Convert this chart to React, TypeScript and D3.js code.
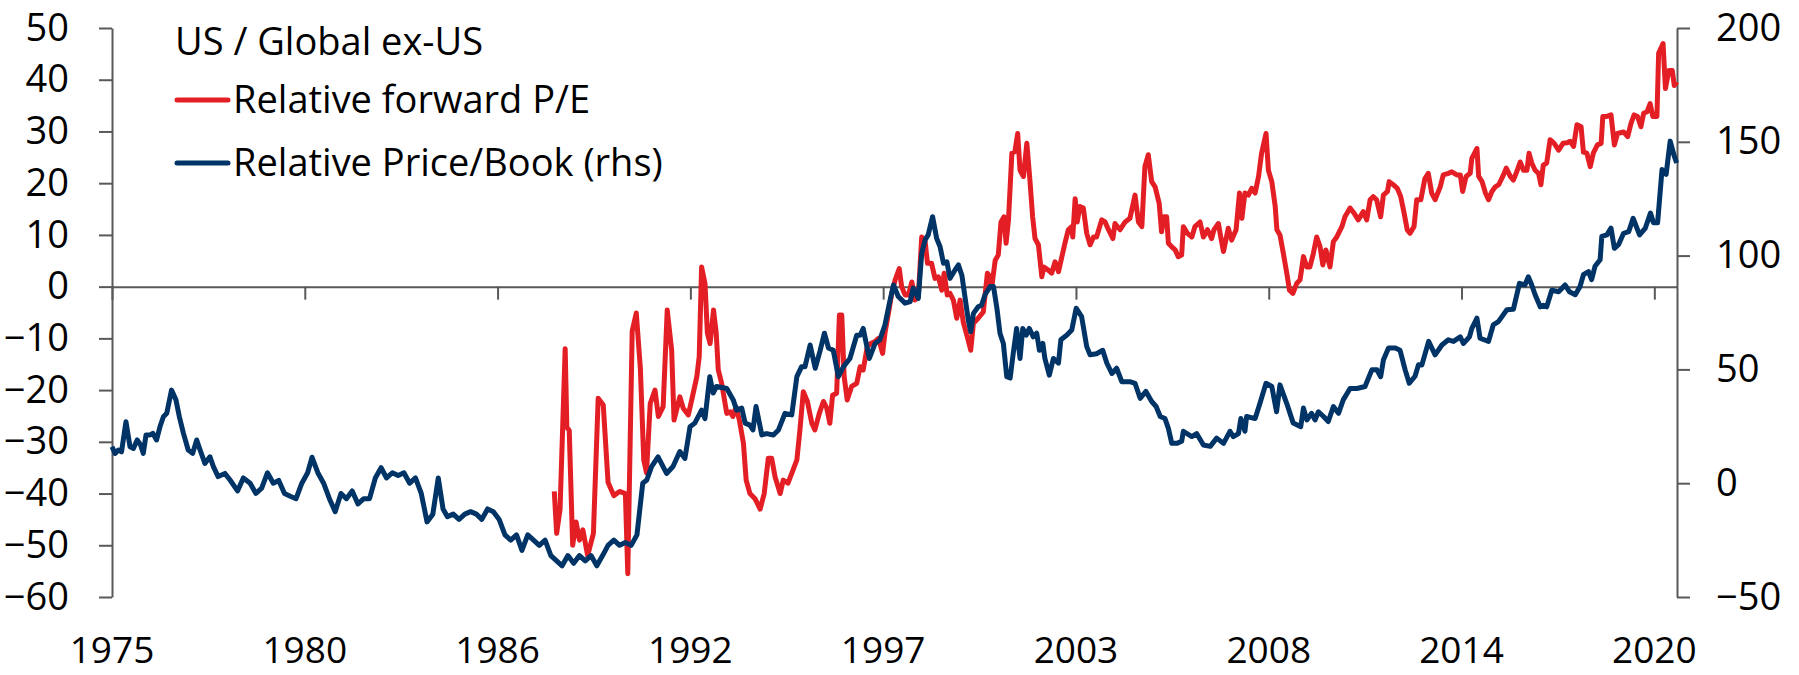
import { useEffect, useRef } from "react";
import * as d3 from "d3";

// axis labels
const xTickLabels = ["1975", "1980", "1986", "1992", "1997", "2003", "2008", "2014", "2020"];
const xTickStepYears = 68 / 12; // excel category axis: one label every 68 months
const leftTicks = [50, 40, 30, 20, 10, 0, -10, -20, -30, -40, -50, -60];
const rightTicks = [200, 150, 100, 50, 0, -50];

const legendTitle = "US / Global ex-US";
const peLabel = "Relative forward P/E";
const pbLabel = "Relative Price/Book (rhs)";

// Relative forward P/E (lhs)
const peYears = [
  1988.0, 1988.07, 1988.17, 1988.32, 1988.37, 1988.44, 1988.54, 1988.64, 1988.74, 1988.84, 1988.98, 1989.15,
  1989.29, 1989.44, 1989.58, 1989.75, 1989.92, 1990.09, 1990.16, 1990.29, 1990.41, 1990.53, 1990.63, 1990.71,
  1990.82, 1990.96, 1991.06, 1991.2, 1991.32, 1991.45, 1991.52, 1991.69, 1991.79, 1991.94, 1992.04, 1992.19,
  1992.26, 1992.33, 1992.43, 1992.5, 1992.58, 1992.68, 1992.76, 1992.82, 1992.92, 1993.07, 1993.17, 1993.25,
  1993.34, 1993.44, 1993.56, 1993.64, 1993.75, 1993.9, 1994.05, 1994.17, 1994.29, 1994.39, 1994.49, 1994.64,
  1994.73, 1994.87, 1994.98, 1995.13, 1995.22, 1995.32, 1995.44, 1995.57, 1995.66, 1995.79, 1995.91, 1996.01,
  1996.1, 1996.18, 1996.3, 1996.38, 1996.45, 1996.52, 1996.61, 1996.74, 1996.89, 1996.99, 1997.08, 1997.2,
  1997.3, 1997.43, 1997.53, 1997.65, 1997.72, 1997.82, 1997.92, 1998.02, 1998.14, 1998.21, 1998.31, 1998.41,
  1998.51, 1998.6, 1998.7, 1998.8, 1998.9, 1998.97, 1999.09, 1999.19, 1999.29, 1999.39, 1999.46, 1999.55,
  1999.63, 1999.73, 1999.83, 1999.93, 2000.02, 2000.14, 2000.24, 2000.32, 2000.46, 2000.61, 2000.73, 2000.81,
  2000.86, 2000.96, 2001.05, 2001.13, 2001.22, 2001.28, 2001.35, 2001.45, 2001.54, 2001.62, 2001.69, 2001.79,
  2001.89, 2001.98, 2002.06, 2002.13, 2002.23, 2002.33, 2002.39, 2002.52, 2002.62, 2002.72, 2002.82, 2002.92,
  2003.01, 2003.11, 2003.21, 2003.24, 2003.31, 2003.37, 2003.45, 2003.55, 2003.65, 2003.75, 2003.85, 2003.94,
  2004.09, 2004.19, 2004.29, 2004.42, 2004.48, 2004.63, 2004.78, 2004.92, 2005.07, 2005.17, 2005.27, 2005.36,
  2005.46, 2005.56, 2005.66, 2005.78, 2005.85, 2005.92, 2006.0, 2006.05, 2006.15, 2006.25, 2006.34, 2006.44,
  2006.49, 2006.61, 2006.74, 2006.83, 2006.98, 2007.08, 2007.2, 2007.32, 2007.39, 2007.52, 2007.59, 2007.67,
  2007.81, 2007.91, 2008.04, 2008.14, 2008.21, 2008.3, 2008.4, 2008.5, 2008.6, 2008.7, 2008.79, 2008.92,
  2008.99, 2009.09, 2009.19, 2009.24, 2009.33, 2009.43, 2009.53, 2009.61, 2009.71, 2009.82, 2009.92, 2010.02,
  2010.12, 2010.21, 2010.31, 2010.41, 2010.51, 2010.59, 2010.68, 2010.8, 2010.9, 2011.0, 2011.15, 2011.24,
  2011.39, 2011.51, 2011.63, 2011.78, 2011.88, 2011.98, 2012.07, 2012.17, 2012.29, 2012.37, 2012.49, 2012.54,
  2012.66, 2012.78, 2012.88, 2012.98, 2013.07, 2013.15, 2013.27, 2013.35, 2013.47, 2013.59, 2013.69, 2013.79,
  2013.89, 2014.04, 2014.13, 2014.28, 2014.38, 2014.53, 2014.63, 2014.7, 2014.8, 2014.92, 2014.97, 2015.12,
  2015.17, 2015.27, 2015.37, 2015.46, 2015.56, 2015.66, 2015.76, 2015.9, 2015.98, 2016.1, 2016.19, 2016.29,
  2016.39, 2016.49, 2016.59, 2016.65, 2016.73, 2016.83, 2016.93, 2017.0, 2017.07, 2017.17, 2017.27, 2017.39,
  2017.52, 2017.65, 2017.77, 2017.86, 2017.96, 2018.06, 2018.18, 2018.25, 2018.35, 2018.45, 2018.54, 2018.66,
  2018.77, 2018.82, 2018.94, 2019.06, 2019.16, 2019.25, 2019.43, 2019.55, 2019.65, 2019.74, 2019.84, 2019.94,
  2020.02, 2020.12, 2020.21, 2020.29, 2020.41, 2020.46, 2020.59, 2020.66, 2020.76, 2020.86, 2020.92, 2021.0,
];
const peValues = [
  -39.6, -47.7, -43, -12, -27.2, -27.8, -50, -45.5, -49, -47, -52, -47.7,
  -21.6, -22.9, -37.8, -40.4, -39.6, -40, -55.5, -8.6, -5.1, -15.8, -33.5, -36,
  -22.6, -20, -25.1, -23.2, -4.5, -12.3, -25.8, -21.3, -23.5, -24.8, -21.9, -17.4,
  -13.5, 3.8, 0.6, -9, -11, -4.5, -9, -16.1, -18.7, -24.5, -24.2, -25.1,
  -23.2, -25.8, -30.3, -37.4, -40, -41, -43, -40, -33.2, -33.2, -36.8, -40,
  -37.4, -38, -36.1, -33.5, -27.7, -20.3, -22.2, -26.4, -27.7, -24.5, -22.2, -23.5,
  -26.4, -21, -20.6, -5.5, -5.5, -17.4, -21.9, -19.3, -18.7, -15.5, -16.1, -11.6,
  -11, -10.6, -10, -12.9, -9, -5.2, -1.3, 1.3, 3.5, 0, -1.6, -1.6,
  0.9, -2.6, -1.95, 9.6, 8.7, 4.5, 4.5, 1.6, 1.9, -0.7, 2.6, -1.6,
  -1.3, -2.6, -6.1, -2.6, -6.8, -9.7, -12.3, -7.1, -6.1, -4.9, 2.6, 1.9,
  0, 5.1, 6.1, 12.5, 13.5, 8.4, 12.9, 25.8, 26.1, 29.6, 22.5, 21.3,
  27.7, 20.6, 13.5, 9.3, 8.1, 1.9, 3.8, 3.2, 2.6, 4.8, 2.9, 5.8,
  8.4, 11, 11.6, 9.6, 17, 12.5, 15.5, 15.2, 10.3, 8.1, 9.6, 9.6,
  12.9, 12.5, 11, 9.3, 12.2, 11, 12.5, 13.2, 17.7, 12.5, 11.6, 23.2,
  25.5, 20.3, 19.3, 16.1, 10.6, 13.5, 13.5, 8.4, 7.7, 7.1, 5.8, 6.1,
  11.6, 10.3, 9.6, 11.6, 12.5, 9.6, 11, 9.3, 11, 12.2, 9.6, 6.8,
  11.3, 9, 11, 18.1, 13.2, 18.1, 17.7, 19, 18.1, 21.3, 25.8, 29.6,
  22.5, 20.3, 15.5, 11, 10, 6.4, 2.6, -0.7, -1.3, 0.6, 1.3, 5.8,
  3.8, 3.8, 6.4, 9.6, 7.7, 4.2, 7.1, 3.8, 8.7, 9.6, 11.6, 13.5,
  15.2, 14.2, 12.9, 14.5, 12.9, 16.8, 17.4, 16.8, 13.5, 17.7, 18.4, 20.3,
  19.7, 19, 17.4, 14.2, 11, 10.3, 11.6, 16.8, 16.8, 20.9, 21.9, 18.1,
  16.8, 19.3, 21.6, 21.9, 22.2, 21.6, 21.6, 18.4, 21.3, 21.9, 24.8, 26.7,
  21.3, 20.3, 18.1, 16.8, 18.4, 19.3, 19.7, 21.6, 22.9, 21.3, 20.6, 22.2,
  24.1, 22.5, 22.5, 25.8, 23.9, 22.5, 21.9, 19.7, 23.5, 23.9, 28.4, 27.7,
  26.4, 27.7, 27.8, 28.1, 27.1, 31.3, 30.9, 26, 25.8, 23.2, 25.8, 27.4,
  27.7, 32.9, 32.9, 33.2, 27.4, 29.6, 29.9, 29, 31.6, 33.2, 32.9, 30.9,
  33.5, 33.8, 35.4, 32.9, 32.9, 45.1, 47, 38.3, 41.8, 41.8, 38.9, 39.6,
];

// Relative Price/Book (rhs)
const pbYears = [
  1975.0, 1975.09, 1975.19, 1975.28, 1975.41, 1975.53, 1975.63, 1975.74, 1975.84, 1975.92, 1976.0, 1976.12,
  1976.2, 1976.31, 1976.41, 1976.51, 1976.61, 1976.75, 1976.88, 1976.98, 1977.1, 1977.24, 1977.37, 1977.49,
  1977.59, 1977.73, 1977.88, 1977.98, 1978.12, 1978.32, 1978.47, 1978.69, 1978.86, 1979.06, 1979.23, 1979.4,
  1979.57, 1979.74, 1979.9, 1980.07, 1980.24, 1980.41, 1980.58, 1980.75, 1980.88, 1981.05, 1981.22, 1981.39,
  1981.56, 1981.73, 1981.89, 1982.06, 1982.23, 1982.4, 1982.57, 1982.74, 1982.91, 1983.07, 1983.24, 1983.41,
  1983.58, 1983.75, 1983.92, 1984.09, 1984.26, 1984.43, 1984.59, 1984.73, 1984.86, 1985.03, 1985.2, 1985.37,
  1985.54, 1985.71, 1985.87, 1986.04, 1986.21, 1986.38, 1986.55, 1986.72, 1986.89, 1987.05, 1987.22, 1987.39,
  1987.56, 1987.73, 1987.9, 1988.07, 1988.23, 1988.4, 1988.57, 1988.74, 1988.91, 1989.08, 1989.25, 1989.42,
  1989.58, 1989.75, 1989.92, 1990.09, 1990.26, 1990.43, 1990.6, 1990.72, 1990.86, 1991.05, 1991.3, 1991.49,
  1991.69, 1991.84, 1991.99, 1992.13, 1992.33, 1992.43, 1992.57, 1992.67, 1992.77, 1993.07, 1993.26, 1993.36,
  1993.51, 1993.61, 1993.75, 1993.84, 1993.93, 1994.1, 1994.24, 1994.44, 1994.59, 1994.78, 1994.98, 1995.13,
  1995.27, 1995.37, 1995.52, 1995.67, 1995.81, 1995.94, 1996.06, 1996.2, 1996.35, 1996.5, 1996.69, 1996.89,
  1996.99, 1997.08, 1997.26, 1997.43, 1997.57, 1997.72, 1997.85, 1997.97, 1998.11, 1998.31, 1998.46, 1998.55,
  1998.7, 1998.8, 1998.9, 1998.99, 1999.12, 1999.24, 1999.34, 1999.44, 1999.54, 1999.63, 1999.78, 1999.88,
  1999.98, 2000.07, 2000.17, 2000.24, 2000.32, 2000.46, 2000.56, 2000.66, 2000.81, 2000.91, 2001.01, 2001.1,
  2001.2, 2001.3, 2001.4, 2001.49, 2001.59, 2001.69, 2001.77, 2001.87, 2001.96, 2002.08, 2002.18, 2002.26,
  2002.36, 2002.42, 2002.55, 2002.67, 2002.82, 2002.89, 2003.06, 2003.21, 2003.34, 2003.5, 2003.65, 2003.75,
  2003.94, 2004.12, 2004.24, 2004.39, 2004.53, 2004.68, 2004.92, 2005.07, 2005.22, 2005.39, 2005.56, 2005.69,
  2005.81, 2005.95, 2006.05, 2006.15, 2006.3, 2006.44, 2006.49, 2006.74, 2006.88, 2007.08, 2007.28, 2007.47,
  2007.67, 2007.86, 2007.96, 2008.11, 2008.18, 2008.3, 2008.35, 2008.6, 2008.74, 2008.92, 2009.09, 2009.23,
  2009.33, 2009.53, 2009.72, 2009.94, 2010.02, 2010.12, 2010.26, 2010.36, 2010.46, 2010.61, 2010.75, 2010.9,
  2011.05, 2011.19, 2011.39, 2011.59, 2011.83, 2012.03, 2012.18, 2012.29, 2012.37, 2012.52, 2012.72, 2012.86,
  2013.01, 2013.13, 2013.3, 2013.4, 2013.5, 2013.7, 2013.89, 2014.09, 2014.28, 2014.43, 2014.63, 2014.72,
  2014.9, 2014.97, 2015.12, 2015.21, 2015.46, 2015.6, 2015.75, 2016.0, 2016.19, 2016.37, 2016.53, 2016.63,
  2016.73, 2016.83, 2016.98, 2017.07, 2017.17, 2017.32, 2017.52, 2017.71, 2017.84, 2018.01, 2018.15, 2018.25,
  2018.4, 2018.49, 2018.59, 2018.74, 2018.79, 2018.94, 2019.06, 2019.16, 2019.28, 2019.43, 2019.58, 2019.71,
  2019.9, 2020.07, 2020.22, 2020.31, 2020.43, 2020.56, 2020.68, 2020.8, 2020.92, 2020.99,
];
const pbValues = [
  16, 13.1, 14.6, 13.8, 27, 16, 15.3, 19, 16.8, 13.1, 21.2, 21.2,
  21.9, 19, 24.8, 29.2, 30.7, 40.9, 36.6, 29.2, 21.9, 14.6, 13.1, 19,
  14.6, 8.7, 11.6, 7.3, 2.9, 4.3, 1.4, -3.4, 2.3, 0, -4.5, -2.2,
  4.6, 0, 1.2, -4.5, -5.7, -6.8, 0, 4.6, 11.4, 4.6, 0, -6.8,
  -12.5, -4.5, -6.8, -3.4, -9.1, -6.8, -6.8, 2.3, 6.8, 2.3, 4.6, 3.4,
  4.6, 0, 2.3, -4.5, -17, -13.6, 2.3, -11.3, -14.7, -13.6, -15.9, -13.6,
  -12.5, -13.6, -15.9, -11.3, -12.5, -15.9, -22.7, -25, -22.7, -29.5, -22.7, -25,
  -27.3, -25, -31.8, -34.1, -36.3, -31.8, -35.2, -31.8, -34.1, -31.8, -36.3, -31.8,
  -27.3, -25, -27.3, -26.1, -27.3, -22.7, 0, 1.4, 7.3, 11.6, 4.3, 7.3,
  13.9, 10.9, 24.8, 26.4, 32.1, 28.4, 46.8, 39.6, 42.5, 41.6, 36.6, 32.1,
  33, 26.4, 25.5, 23.4, 33.7, 21.2, 21.8, 21.2, 23.4, 30.7, 30, 46.8,
  51.2, 51.2, 60.7, 50.5, 58, 65.9, 59.4, 58.4, 46.8, 51.2, 54.8, 65,
  65, 68, 54.8, 61.4, 63, 69.6, 79.1, 87.1, 82, 79.1, 79.8, 85.7,
  81.2, 101, 106.9, 109.1, 117.1, 107.5, 103.9, 96.6, 97.3, 90, 93.7, 95.9,
  91.4, 82, 71.6, 66.6, 74.6, 77.5, 78.2, 82.8, 86.4, 86.4, 76.9, 65.9,
  61.4, 46.8, 46.2, 57.1, 68, 54.8, 68, 65, 68, 64.3, 65.9, 58.4,
  61.4, 54.8, 47.5, 54.8, 52.8, 63, 65, 67.3, 76.9, 73.2, 60, 56.4,
  56.9, 58.4, 52.8, 48.2, 50.5, 44.6, 44.6, 43.9, 37.3, 40.3, 35.9, 33.7,
  29.3, 28.4, 24.1, 17.5, 17.5, 18.4, 22.8, 20.5, 21.8, 16.8, 16.2, 19.8,
  17.5, 22.8, 20.5, 21.8, 28.4, 22.8, 29.3, 28.4, 35, 43.9, 42.5, 31.4,
  43.2, 35, 26.4, 24.8, 33, 27.8, 30.7, 27.8, 31.4, 29.3, 27.1, 33.7,
  30.7, 36.6, 41.6, 41.6, 42.5, 49.8, 49.8, 46.8, 54.1, 59.4, 59.4, 58.4,
  49.8, 43.9, 47, 52, 51.9, 62.3, 56.4, 60.7, 63, 62.3, 64.3, 61.4,
  64.3, 68, 72.5, 63.7, 62.3, 69.6, 71, 76.2, 76.4, 87.8, 87.1, 90.7,
  87.1, 82.8, 77.5, 78.2, 77.5, 84.8, 84.1, 87.1, 84.1, 82.8, 86.4, 91.6,
  93, 89.4, 95.3, 98.2, 108.4, 109.1, 112.1, 103.2, 104.8, 109.8, 110.5, 116.4,
  109.1, 112.1, 118.7, 114.4, 114.4, 137.8, 135.7, 150.3, 143.7, 140.7,
];

const W = 1799;
const H = 675;
const RED = "#e31e24";
const NAVY = "#003366";
const AXIS = "#595959";
const FONT = "'Open Sans', 'Noto Sans', sans-serif";

export default function App() {
  const ref = useRef<SVGSVGElement>(null);

  useEffect(() => {
    const svg = d3.select(ref.current);
    svg.selectAll("*").remove();

    const left = 112, right = 1677, top = 28, bottom = 597;

    const x = d3.scaleLinear().domain([1975, 2021]).range([left, right]);
    const yL = d3.scaleLinear().domain([-60, 50]).range([bottom, top]);
    const yR = d3.scaleLinear().domain([-50, 200]).range([bottom, top]);

    const styleAxis = (g: any) => {
      g.select(".domain").attr("stroke", AXIS).attr("stroke-width", 2);
      g.selectAll(".tick line").attr("stroke", AXIS).attr("stroke-width", 2);
      g.selectAll(".tick text")
        .attr("fill", "#000")
        .style("font-family", FONT)
        .style("font-size", "38px");
    };

    // horizontal axis on the zero line
    const xTickPos = xTickLabels.map((_, i) => 1975 + i * xTickStepYears);
    svg.append("g")
      .attr("transform", `translate(0, ${yL(0)})`)
      .call(d3.axisBottom(x).tickValues(xTickPos).tickSize(13).tickSizeOuter(0).tickFormat(() => ""))
      .call(styleAxis);

    svg.append("g")
      .selectAll("text")
      .data(xTickLabels)
      .join("text")
      .attr("x", (_, i) => x(xTickPos[i]))
      .attr("y", 663)
      .attr("text-anchor", "middle")
      .style("font-family", FONT)
      .style("font-size", "37px")
      .text(d => d);

    svg.append("g")
      .attr("transform", `translate(${left}, 0)`)
      .call(d3.axisLeft(yL).tickValues(leftTicks).tickSize(13).tickSizeOuter(0).tickPadding(30).tickFormat(d3.format("d")))
      .call(styleAxis);

    svg.append("g")
      .attr("transform", `translate(${right}, 0)`)
      .call(d3.axisRight(yR).tickValues(rightTicks).tickSize(13).tickSizeOuter(0).tickPadding(26).tickFormat(d3.format("d")))
      .call(styleAxis);

    const peLine = d3.line<number>()
      .x((_, i) => x(peYears[i]))
      .y(d => yL(d));
    const pbLine = d3.line<number>()
      .x((_, i) => x(pbYears[i]))
      .y(d => yR(d));

    svg.append("path")
      .datum(peValues)
      .attr("d", peLine)
      .attr("fill", "none")
      .attr("stroke", RED)
      .attr("stroke-width", 5)
      .attr("stroke-linejoin", "round");

    svg.append("path")
      .datum(pbValues)
      .attr("d", pbLine)
      .attr("fill", "none")
      .attr("stroke", NAVY)
      .attr("stroke-width", 5)
      .attr("stroke-linejoin", "round");

    // legend
    const lg = svg.append("g").style("font-family", FONT).style("font-size", "38px");
    lg.append("text").attr("x", 175).attr("y", 55).text(legendTitle);
    [[peLabel, RED, 100], [pbLabel, NAVY, 163]].forEach(([label, color, cy]) => {
      lg.append("line")
        .attr("x1", 177).attr("x2", 228)
        .attr("y1", cy as number).attr("y2", cy as number)
        .attr("stroke", color as string)
        .attr("stroke-width", 5)
        .attr("stroke-linecap", "round");
      lg.append("text")
        .attr("x", 233)
        .attr("y", (cy as number) + 13)
        .text(label as string);
    });
  }, []);

  return (
    <svg
      ref={ref}
      width={W}
      height={H}
      style={{ position: "absolute", left: 0, top: 0, background: "#fff" }}
    />
  );
}
